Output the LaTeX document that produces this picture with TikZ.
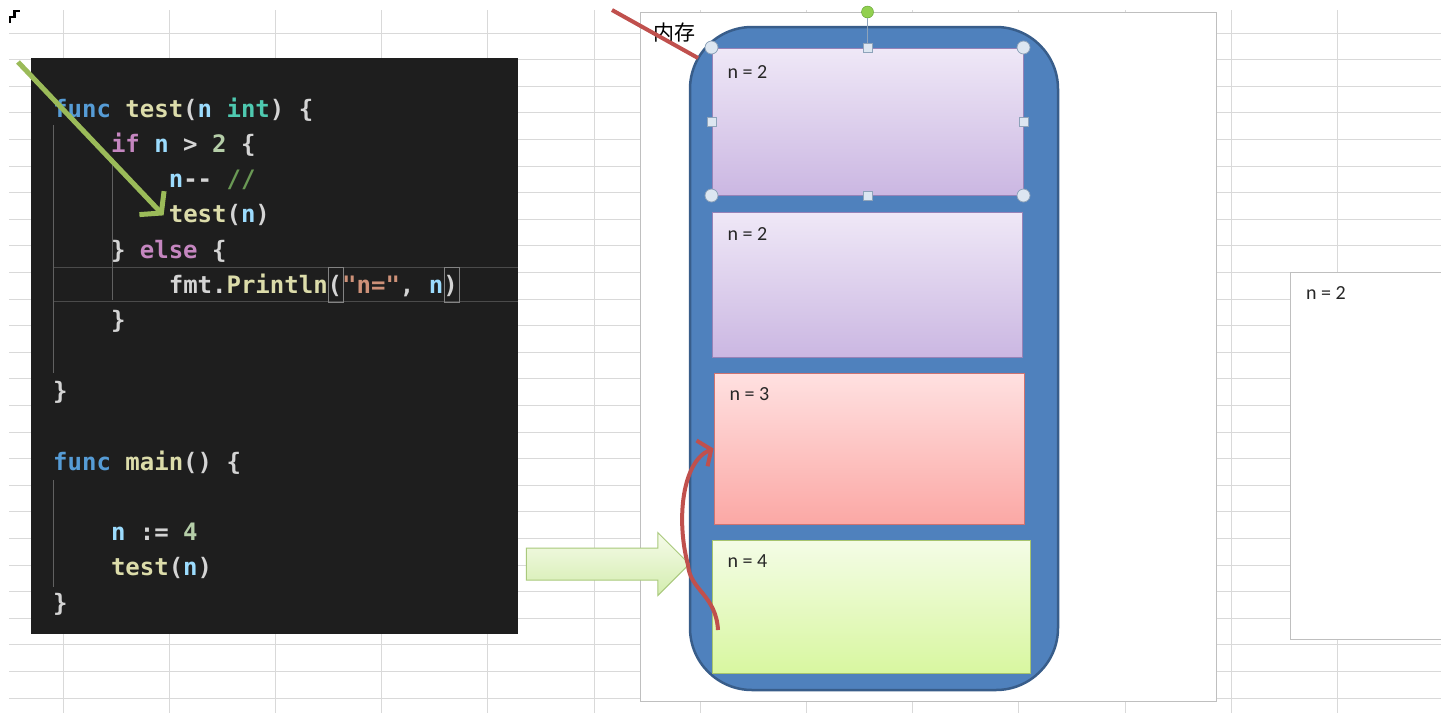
\documentclass[tikz,border=0pt]{standalone}
\usepackage{fontspec}
\setmainfont{Carlito}
\newfontfamily\codefont{DejaVu Sans Mono}
\newfontfamily\cjkfont{Noto Sans CJK SC}
\usetikzlibrary{arrows.meta,shapes.arrows,positioning}

\definecolor{gridcol}{HTML}{D9D9D9}
\definecolor{framecol}{HTML}{BFBFBF}
\definecolor{codebg}{HTML}{1E1E1E}
\definecolor{codefg}{HTML}{D4D4D4}
\definecolor{kwblue}{HTML}{569CD6}
\definecolor{fnyellow}{HTML}{DCDCAA}
\definecolor{varblue}{HTML}{9CDCFE}
\definecolor{tyteal}{HTML}{4EC9B0}
\definecolor{ctlpink}{HTML}{C586C0}
\definecolor{numgreen}{HTML}{B5CEA8}
\definecolor{strorange}{HTML}{CE9178}
\definecolor{comgreen}{HTML}{6A9955}
\definecolor{memfill}{HTML}{4F81BD}
\definecolor{memline}{HTML}{385D8A}
\definecolor{purpletop}{HTML}{EFE8F7}
\definecolor{purplebot}{HTML}{CBB7E2}
\definecolor{purpleline}{HTML}{9683B8}
\definecolor{redtop}{HTML}{FFE1E1}
\definecolor{redbot}{HTML}{FBA8A5}
\definecolor{redline}{HTML}{C0504D}
\definecolor{greentop}{HTML}{F4FCE6}
\definecolor{greenbot}{HTML}{D8F7A0}
\definecolor{greenline}{HTML}{A6C46E}
\definecolor{arrowtop}{HTML}{F6FBEA}
\definecolor{arrowbot}{HTML}{D3EDAE}
\definecolor{arrowline}{HTML}{A9C97C}
\definecolor{olive}{HTML}{9BBB59}
\definecolor{handlefill}{HTML}{DCE6F1}
\definecolor{handleline}{HTML}{8EA3BA}
\definecolor{rotfill}{HTML}{92D050}
\definecolor{rotline}{HTML}{5E9E2E}

% colori della sintassi
\newcommand{\gkw}[1]{\textcolor{kwblue}{#1}}
\newcommand{\gfn}[1]{\textcolor{fnyellow}{#1}}
\newcommand{\gvar}[1]{\textcolor{varblue}{#1}}
\newcommand{\gty}[1]{\textcolor{tyteal}{#1}}
\newcommand{\gctl}[1]{\textcolor{ctlpink}{#1}}
\newcommand{\gnum}[1]{\textcolor{numgreen}{#1}}
\newcommand{\gstr}[1]{\textcolor{strorange}{#1}}
\newcommand{\gcom}[1]{\textcolor{comgreen}{#1}}

\tikzset{
  gridline/.style={draw=gridcol, line width=1pt},
  codeline/.style={anchor=base west, inner sep=0pt, text=codefg,
    font=\codefont\bfseries\fontsize{24}{24}\selectfont},
  stackbox/.style={line width=1pt, inner sep=0pt},
  boxlabel/.style={anchor=base west, inner sep=0pt, text=black!85,
    font=\fontsize{20}{20}\selectfont},
  handlecirc/.style={circle, draw=handleline, fill=handlefill, line width=0.8pt,
    minimum size=13pt, inner sep=0pt},
  handlesq/.style={rectangle, draw=handleline, fill=handlefill, line width=0.8pt,
    minimum size=9pt, inner sep=0pt},
  olivearrow/.style={draw=olive, line width=5pt,
    -{Straight Barb[length=14pt,width=34pt]}},
  redarrow/.style={draw=redline, line width=4pt,
    -{Straight Barb[length=10pt,width=28pt]}}
}

\begin{document}
\begin{tikzpicture}[x=1pt,y=-1pt]
    % Dimensioni
    \def\ind{57.8}   % rientro
    \def\lh{35.3}    % interlinea

    \useasboundingbox[fill=white] (0,0) rectangle (1441,713);

    % Griglia del foglio
    \foreach \r in {0,...,25}
        \draw[gridline] (9,33+26.6*\r) -- (1441,33+26.6*\r);
    \foreach \c in {0,...,13}
        \draw[gridline] (63+106.2*\c,10) -- (63+106.2*\c,713);

    % Segno in alto a sinistra
    \draw[line width=2.5pt] (10,23) -- (10,17) -- (14.5,17) -- (14.5,11) -- (20,11);

    % Cornice e riquadro a destra
    \node[draw=framecol, fill=white, inner sep=0pt, minimum width=576pt, minimum height=689pt] (frame) at (928,356.5) {};
    \node[draw=framecol, fill=white, inner sep=0pt, minimum width=155pt, minimum height=367pt] (side) at (1367.5,455.5) {};
    \node[boxlabel] (sidelbl) at ([shift={(16,28)}]side.north west) {n = 2};

    % Pannello del codice
    \node[fill=codebg, inner sep=0pt, minimum width=487pt, minimum height=576pt] (panel) at (274.5,346) {};
    \draw[codebg!80!white, line width=1pt] (53,267) -- (518,267);
    \draw[codebg!80!white, line width=1pt] (53,301) -- (518,301);
    \draw[codebg!70!white, line width=1pt] (53,125) -- (53,373);
    \draw[codebg!70!white, line width=1pt] (112,160) -- (112,300);
    \draw[codebg!70!white, line width=1pt] (53,480) -- (53,587);
    \draw[codebg!55!white, line width=1pt] (328,267) rectangle (343,302);
    \draw[codebg!55!white, line width=1pt] (444,267) rectangle (459,302);

    \node[codeline] (l0) at (53,117) {\gkw{func} \gfn{test}(\gvar{n} \gty{int}) \{};
    \node[codeline] (l1) at (53+\ind,117+\lh) {\gctl{if} \gvar{n} > \gnum{2} \{};
    \node[codeline] (l2) at (53+2*\ind,117+2*\lh) {\gvar{n}-\kern0pt- \gcom{//}};
    \node[codeline] (l3) at (53+2*\ind,117+3*\lh) {\gfn{test}(\gvar{n})};
    \node[codeline] (l4) at (53+\ind,117+4*\lh) {\} \gctl{else} \{};
    \node[codeline] (l5) at (53+2*\ind,117+5*\lh) {fmt.\gfn{Println}(\gstr{"n="}, \gvar{n})};
    \node[codeline] (l6) at (53+\ind,117+6*\lh) {\}};
    \node[codeline] (l8) at (53,117+8*\lh) {\}};
    \node[codeline] (l10) at (53,117+10*\lh) {\gkw{func} \gfn{main}() \{};
    \node[codeline] (l12) at (53+\ind,117+12*\lh) {\gvar{n} := \gnum{4}};
    \node[codeline] (l13) at (53+\ind,117+13*\lh) {\gfn{test}(\gvar{n})};
    \node[codeline] (l14) at (53,117+14*\lh) {\}};

    % Memoria (stack)
    \node[draw=memline, fill=memfill, line width=2.5pt, rounded corners=62pt, inner sep=0pt,
          minimum width=368pt, minimum height=663pt] (mem) at (874,358.5) {};
    \node[anchor=west, inner sep=0pt, font=\cjkfont\fontsize{21}{21}\selectfont] (memlbl) at (653,33) {内存};

    \node[stackbox, draw=purpleline, top color=purpletop, bottom color=purplebot,
          minimum width=311pt, minimum height=147pt] (st1) at (867.5,121.5) {};
    \node[stackbox, draw=purpleline, top color=purpletop, bottom color=purplebot,
          minimum width=310pt, minimum height=145pt] (st2) at (867,284.5) {};
    \node[stackbox, draw=redline!80, top color=redtop, bottom color=redbot,
          minimum width=310pt, minimum height=151pt] (st3) at (869,448.5) {};
    \node[stackbox, draw=greenline, top color=greentop, bottom color=greenbot,
          minimum width=318pt, minimum height=133pt] (st4) at (871,606.5) {};

    \node[boxlabel] (n1) at ([shift={(16,31)}]st1.north west) {n = 2};
    \node[boxlabel] (n2) at ([shift={(16,29)}]st2.north west) {n = 2};
    \node[boxlabel] (n3) at ([shift={(16,28)}]st3.north west) {n = 3};
    \node[boxlabel] (n4) at ([shift={(16,28)}]st4.north west) {n = 4};

    % Maniglie di selezione
    \node[circle, draw=rotline, fill=rotfill, minimum size=12pt, inner sep=0pt] (rot) at (867.5,12) {};
    \draw[handleline, line width=1pt] (rot) -- (st1.north);
    \foreach \a [count=\i] in {north west,north east,south west,south east}
        \node[handlecirc] (hc\i) at (st1.\a) {};
    \foreach \a [count=\i] in {north,south,west,east}
        \node[handlesq] (hs\i) at (st1.\a) {};

    % Frecce
    \node[single arrow, draw=arrowline, top color=arrowtop, bottom color=arrowbot, line width=1pt,
          minimum height=163pt, inner xsep=0pt, inner ysep=15.5pt, single arrow head extend=15.5pt,
          anchor=tip] (call) at (690,564) {};

    \coordinate (gstart) at (18,62);
    \draw[olivearrow] (gstart) -- ([xshift=-5pt]l3.west);

    \coordinate (rstart) at (718,630);
    \draw[redarrow] (rstart) .. controls (716,595) and (690,590) .. (688,565)
        .. controls (676,520) and (682,462) .. (st3.west);

    \coordinate (cstart) at (612,10);
    \coordinate (cend) at (698,58);
    \draw[redline, line width=4pt] (cstart) -- (cend);

\end{tikzpicture}
\end{document}
